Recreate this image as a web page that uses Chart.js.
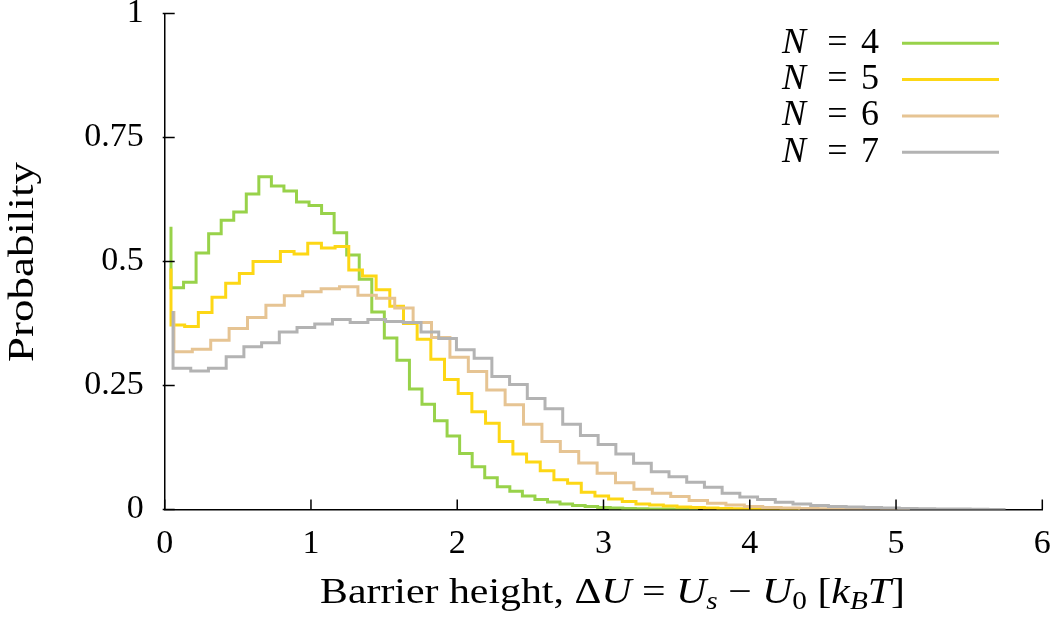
<!DOCTYPE html>
<html>
<head>
<meta charset="utf-8">
<script src="https://cdn.jsdelivr.net/npm/chart.js@4.4.0/dist/chart.umd.min.js"></script>
<style>
  html, body { margin: 0; padding: 0; background: #fff; }
  #wrap { width: 1050px; height: 618px; }
</style>
</head>
<body>
<div id="wrap"><canvas id="chart" width="1050" height="618"></canvas></div>
<script>
// Axis ticks
const xTicks = [0, 1, 2, 3, 4, 5, 6];
const yTicks = [0, 0.25, 0.5, 0.75, 1];
const yTickLabels = ['0', '0.25', '0.5', '0.75', '1'];

// Series (N = number of particles), histogram bins per series
const seriesN = ['4', '5', '6', '7'];
const binStart = [0.043, 0.043, 0.063, 0.057];
const binWidth = [0.0858, 0.0935, 0.1258, 0.1211];

// first value is the spike at the left edge, then one value per bin
const probN4 = [0.570, 0.447, 0.458, 0.517, 0.556, 0.583, 0.600, 0.636, 0.671, 0.652, 0.642,
  0.620, 0.613, 0.597, 0.558, 0.513, 0.464, 0.398, 0.346, 0.301, 0.243, 0.212, 0.179, 0.148,
  0.113, 0.086, 0.064, 0.046, 0.037, 0.027, 0.020, 0.015, 0.011, 0.008, 0.006, 0.004, 0.003,
  0.002, 0.0015, 0.001, 0.001, 0.0005, 0];
const probN5 = [0.486, 0.372, 0.369, 0.397, 0.428, 0.456, 0.476, 0.500, 0.500, 0.520, 0.515,
  0.537, 0.527, 0.530, 0.483, 0.471, 0.443, 0.410, 0.375, 0.343, 0.303, 0.262, 0.234, 0.197,
  0.174, 0.137, 0.112, 0.096, 0.078, 0.060, 0.053, 0.035, 0.027, 0.021, 0.016, 0.011, 0.009,
  0.007, 0.005, 0.004, 0.003, 0.002, 0.0015, 0.001, 0.001, 0.0005, 0];
const probN6 = [0.400, 0.318, 0.323, 0.341, 0.365, 0.387, 0.412, 0.431, 0.439, 0.445, 0.449,
  0.432, 0.426, 0.406, 0.377, 0.347, 0.307, 0.278, 0.241, 0.211, 0.172, 0.137, 0.117, 0.094,
  0.073, 0.054, 0.041, 0.033, 0.026, 0.018, 0.0125, 0.009, 0.006, 0.004, 0.003, 0.002, 0.0015,
  0.001, 0.001, 0.0005, 0];
const probN7 = [0.400, 0.285, 0.279, 0.285, 0.308, 0.328, 0.336, 0.358, 0.367, 0.374, 0.383,
  0.377, 0.383, 0.379, 0.377, 0.358, 0.345, 0.322, 0.305, 0.268, 0.252, 0.224, 0.203, 0.172,
  0.149, 0.131, 0.112, 0.093, 0.076, 0.066, 0.055, 0.045, 0.033, 0.025, 0.020, 0.0145, 0.011,
  0.008, 0.006, 0.005, 0.004, 0.003, 0.002, 0.0015, 0.001, 0.001, 0.0005, 0];

const allProbs = [probN4, probN5, probN6, probN7];
const colors = ['#98d24a', '#fdd715', '#e6c493', '#b3b3b3'];

const serif = "'Liberation Serif', 'Times New Roman', serif";
const tickSize = 34;
const textSize = 36;

function toPoints(start, width, values) {
  return values.map((v, i) => ({ x: start + i * width, y: v }));
}

const datasets = seriesN.map((n, k) => ({
  label: 'N = ' + n,
  data: toPoints(binStart[k], binWidth[k], allProbs[k]),
  borderColor: colors[k],
  borderWidth: 3,
  pointRadius: 0,
  stepped: 'after',
  fill: false,
  order: seriesN.length - k
}));

// text pieces: [text, style, dy, sizeFactor]
function setFont(ctx, p) {
  ctx.font = (p[1] === 'i' ? 'italic ' : '') + (textSize * (p[3] || 1)) + 'px ' + serif;
}
function piecesWidth(ctx, pieces) {
  let w = 0;
  pieces.forEach(p => { setFont(ctx, p); w += ctx.measureText(p[0]).width; });
  return w;
}
// draws pieces from (0,0) stretched to a target width
function drawPieces(ctx, pieces, targetW) {
  const f = targetW / piecesWidth(ctx, pieces);
  ctx.scale(f, 1);
  let x = 0;
  pieces.forEach(p => {
    setFont(ctx, p);
    ctx.fillText(p[0], x, p[2] || 0);
    x += ctx.measureText(p[0]).width;
  });
}

const decor = {
  id: 'decor',
  afterDraw(chart) {
    const { ctx, chartArea: a, scales: { x, y } } = chart;
    ctx.save();
    // inward tick marks
    ctx.strokeStyle = '#000';
    ctx.lineWidth = 1.5;
    xTicks.forEach(v => {
      const px = x.getPixelForValue(v);
      ctx.beginPath(); ctx.moveTo(px, a.bottom); ctx.lineTo(px, a.bottom - 10); ctx.stroke();
    });
    yTicks.forEach(v => {
      const py = y.getPixelForValue(v);
      ctx.beginPath(); ctx.moveTo(a.left - 2, py); ctx.lineTo(a.left + 10, py); ctx.stroke();
    });

    // legend: text then line sample
    ctx.fillStyle = '#000';
    ctx.textBaseline = 'alphabetic';
    chart.data.datasets.forEach((ds, k) => {
      const ly = 43.3 + k * 36.3;
      ctx.font = 'italic ' + textSize + 'px ' + serif;
      ctx.textAlign = 'left';
      ctx.fillText('N', 782, ly + 9.5);
      ctx.font = textSize + 'px ' + serif;
      ctx.textAlign = 'center';
      ctx.fillText('=', 837.5, ly + 9.5);
      ctx.textAlign = 'right';
      ctx.fillText(seriesN[k], 879, ly + 9.5);
      ctx.strokeStyle = ds.borderColor;
      ctx.lineWidth = 3;
      ctx.beginPath(); ctx.moveTo(902, ly); ctx.lineTo(999, ly); ctx.stroke();
    });

    // x axis title with math
    ctx.textAlign = 'left';
    const pieces = [
      ['Barrier height, ', 'r'], ['\u0394', 'r'], ['U', 'i'], [' = ', 'r'], ['U', 'i'],
      ['s', 'i', 6, 0.7], [' \u2212 ', 'r'], ['U', 'i'], ['0', 'r', 6, 0.7], [' [', 'r'],
      ['k', 'i'], ['B', 'i', 6, 0.7], ['T', 'i'], [']', 'r']
    ];
    ctx.save();
    ctx.translate(320, 603);
    drawPieces(ctx, pieces, 585);
    ctx.restore();

    // y axis title
    ctx.save();
    ctx.translate(33, 362);
    ctx.rotate(-Math.PI / 2);
    drawPieces(ctx, [['Probability', 'r']], 200);
    ctx.restore();
    ctx.restore();
  }
};

new Chart(document.getElementById('chart'), {
  type: 'line',
  data: { datasets },
  options: {
    responsive: false,
    animation: false,
    layout: { padding: { top: 13.5, right: 7.7, left: 0, bottom: 0 } },
    plugins: { legend: { display: false }, tooltip: { enabled: false } },
    scales: {
      x: {
        type: 'linear',
        min: 0,
        max: 6,
        afterBuildTicks: s => { s.ticks = xTicks.map(v => ({ value: v })); },
        afterFit: s => { s.height = 108.5; s.paddingLeft = 0; s.paddingRight = 0; },
        ticks: { color: '#000', font: { family: serif, size: tickSize }, padding: 14, maxRotation: 0 },
        grid: { display: true, drawOnChartArea: false, drawTicks: false },
        border: { display: true, color: '#000', width: 1.5 }
      },
      y: {
        min: 0,
        max: 1,
        afterBuildTicks: s => { s.ticks = yTicks.map(v => ({ value: v })); },
        afterFit: s => { s.width = 164.7; s.paddingTop = 0; s.paddingBottom = 0; },
        ticks: {
          color: '#000',
          font: { family: serif, size: tickSize },
          padding: 21,
          callback: (v) => yTickLabels[yTicks.indexOf(v)]
        },
        grid: { display: true, drawOnChartArea: false, drawTicks: false },
        border: { display: true, color: '#000', width: 1.5 }
      }
    }
  },
  plugins: [decor]
});
</script>
</body>
</html>
